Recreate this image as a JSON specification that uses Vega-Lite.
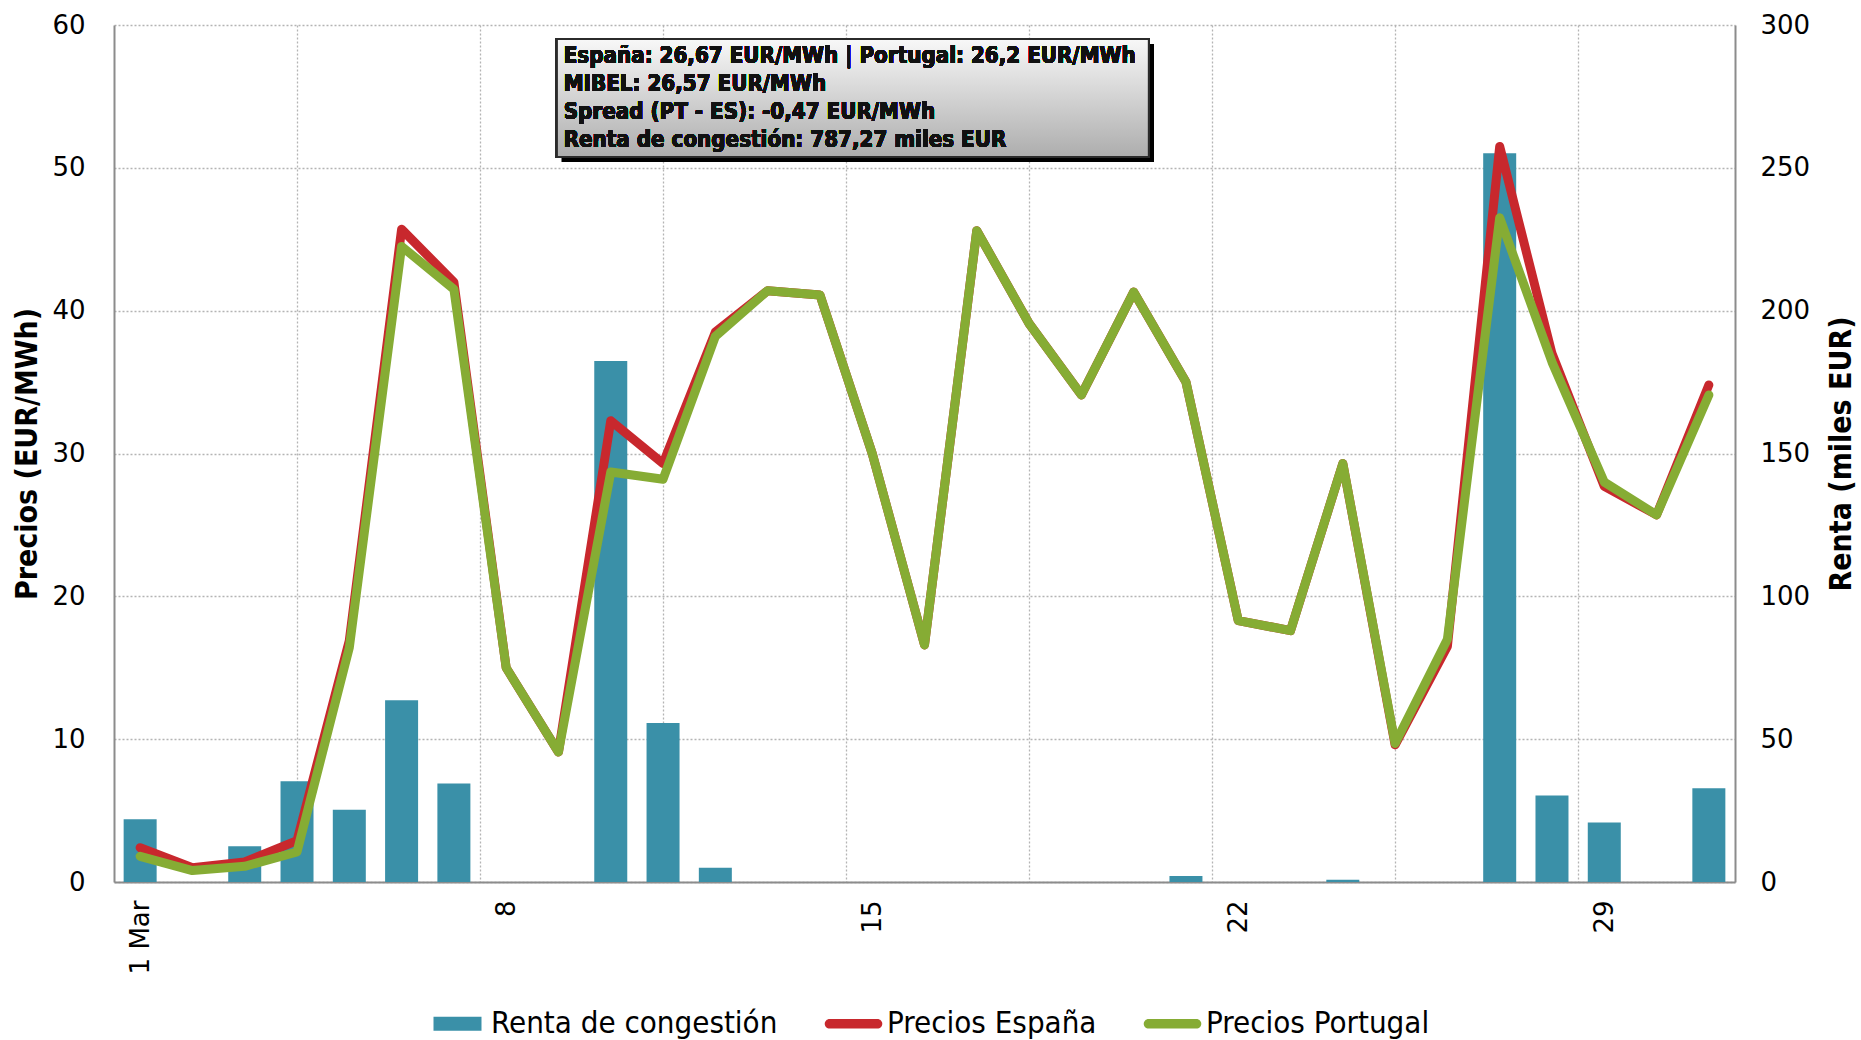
{
  "$schema": "https://vega.github.io/schema/vega-lite/v6.json",
  "width": 1621,
  "height": 857,
  "autosize": {"type": "none"},
  "padding": {"left": 114, "top": 25, "right": 126, "bottom": 158},
  "background": "white",
  "config": {
    "view": {"stroke": null},
    "axis": {
      "domainColor": "#8c8c8c",
      "domainWidth": 2,
      "labelFont": "DejaVu Sans",
      "labelFontSize": 26,
      "labelColor": "#000000",
      "titleFont": "DejaVu Sans Condensed",
      "titleFontSize": 30,
      "titleFontWeight": "bold",
      "titleColor": "#000000",
      "gridColor": "#b4b4b4",
      "gridDash": [2, 2],
      "gridWidth": 1.3,
      "ticks": false
    }
  },
  "data": {
    "values": [
      {"dia": 1, "Precios España": 2.4, "Precios Portugal": 1.8, "Renta de congestión": 22.0},
      {"dia": 2, "Precios España": 1.0, "Precios Portugal": 0.8, "Renta de congestión": 0},
      {"dia": 3, "Precios España": 1.4, "Precios Portugal": 1.1, "Renta de congestión": 12.5},
      {"dia": 4, "Precios España": 2.9, "Precios Portugal": 2.1, "Renta de congestión": 35.3},
      {"dia": 5, "Precios España": 16.9, "Precios Portugal": 16.4, "Renta de congestión": 25.3},
      {"dia": 6, "Precios España": 45.7, "Precios Portugal": 44.5, "Renta de congestión": 63.6},
      {"dia": 7, "Precios España": 42.0, "Precios Portugal": 41.5, "Renta de congestión": 34.5},
      {"dia": 8, "Precios España": 15.0, "Precios Portugal": 15.0, "Renta de congestión": 0},
      {"dia": 9, "Precios España": 9.1, "Precios Portugal": 9.1, "Renta de congestión": 0},
      {"dia": 10, "Precios España": 32.3, "Precios Portugal": 28.7, "Renta de congestión": 182.4},
      {"dia": 11, "Precios España": 29.3, "Precios Portugal": 28.2, "Renta de congestión": 55.7},
      {"dia": 12, "Precios España": 38.5, "Precios Portugal": 38.2, "Renta de congestión": 5.0},
      {"dia": 13, "Precios España": 41.4, "Precios Portugal": 41.4, "Renta de congestión": 0},
      {"dia": 14, "Precios España": 41.1, "Precios Portugal": 41.1, "Renta de congestión": 0},
      {"dia": 15, "Precios España": 30.0, "Precios Portugal": 30.0, "Renta de congestión": 0},
      {"dia": 16, "Precios España": 16.6, "Precios Portugal": 16.6, "Renta de congestión": 0},
      {"dia": 17, "Precios España": 45.6, "Precios Portugal": 45.6, "Renta de congestión": 0},
      {"dia": 18, "Precios España": 39.1, "Precios Portugal": 39.1, "Renta de congestión": 0},
      {"dia": 19, "Precios España": 34.1, "Precios Portugal": 34.1, "Renta de congestión": 0},
      {"dia": 20, "Precios España": 41.3, "Precios Portugal": 41.3, "Renta de congestión": 0},
      {"dia": 21, "Precios España": 35.0, "Precios Portugal": 35.0, "Renta de congestión": 2.1},
      {"dia": 22, "Precios España": 18.3, "Precios Portugal": 18.3, "Renta de congestión": 0},
      {"dia": 23, "Precios España": 17.6, "Precios Portugal": 17.6, "Renta de congestión": 0},
      {"dia": 24, "Precios España": 29.3, "Precios Portugal": 29.3, "Renta de congestión": 0.8},
      {"dia": 25, "Precios España": 9.6, "Precios Portugal": 9.7, "Renta de congestión": 0},
      {"dia": 26, "Precios España": 16.5, "Precios Portugal": 17.0, "Renta de congestión": 0},
      {"dia": 27, "Precios España": 51.5, "Precios Portugal": 46.5, "Renta de congestión": 255.1},
      {"dia": 28, "Precios España": 37.0, "Precios Portugal": 36.4, "Renta de congestión": 30.3},
      {"dia": 29, "Precios España": 27.7, "Precios Portugal": 28.0, "Renta de congestión": 20.8},
      {"dia": 30, "Precios España": 25.7, "Precios Portugal": 25.7, "Renta de congestión": 0},
      {"dia": 31, "Precios España": 34.8, "Precios Portugal": 34.1, "Renta de congestión": 32.8}
    ]
  },
  "encoding": {
    "x": {
      "field": "dia",
      "type": "quantitative",
      "scale": {"domain": [0.5, 31.5], "nice": false, "zero": false, "padding": 0},
      "axis": {
        "title": null,
        "values": [1, 4, 7.5, 8, 11, 14.5, 15, 18, 21.5, 22, 25, 28.5, 29],
        "labelExpr": "datum.value == 1 ? '1 Mar' : (indexof([8,15,22,29], datum.value) >= 0 ? '' + datum.value : '')",
        "labelAngle": -90,
        "labelPadding": 18,
        "labelOverlap": false,
        "labelFlush": false,
        "grid": true,
        "gridOpacity": {
          "condition": {"test": "indexof([4,7.5,11,14.5,18,21.5,25,28.5], datum.value) >= 0", "value": 1},
          "value": 0
        }
      }
    }
  },
  "layer": [
    {
      "transform": [{"fold": ["Renta de congestión"], "as": ["serie", "valor"]}],
      "mark": {"type": "bar", "size": 33},
      "encoding": {
        "y": {
          "field": "valor",
          "type": "quantitative",
          "scale": {"domain": [0, 300], "nice": false},
          "axis": {
            "orient": "right",
            "title": "Renta (miles EUR)",
            "values": [0, 50, 100, 150, 200, 250, 300],
            "grid": false,
            "labelPadding": 25,
            "titlePadding": 17,
            "titleAngle": 270,
            "titleBaseline": "top"
          }
        },
        "color": {
          "field": "serie",
          "type": "nominal",
          "scale": {
            "domain": ["Renta de congestión", "Precios España", "Precios Portugal"],
            "range": ["#3a90a8", "#c8282d", "#86ac34"]
          },
          "legend": {
            "title": null,
            "orient": "none",
            "legendX": 315,
            "legendY": 970,
            "direction": "horizontal",
            "labelFont": "DejaVu Sans Condensed",
            "labelFontSize": 31,
            "labelColor": "#000000",
            "labelLimit": 0,
            "labelOffset": 5,
            "columnPadding": 46,
            "symbolSize": 3249,
            "encode": {
              "symbols": {
                "update": {
                  "shape": {"signal": "datum.value === 'Renta de congestión' ? 'M-0.842,-0.246H0.842V0.246H-0.842Z' : 'M-0.84,-0.17H0.84A0.17,0.17 0 0 1 0.84,0.17H-0.84A0.17,0.17 0 0 1 -0.84,-0.17Z'"},
                  "fill": {"scale": "color", "field": "value"},
                  "strokeWidth": {"value": 0},
                  "opacity": {"value": 1}
                }
              }
            }
          }
        }
      }
    },
    {
      "layer": [
        {
          "transform": [{"fold": ["Precios España", "Precios Portugal"], "as": ["serie", "valor"]}],
          "mark": {"type": "line", "strokeWidth": 9, "strokeCap": "round", "strokeJoin": "round"},
          "encoding": {
            "y": {
              "field": "valor",
              "type": "quantitative",
              "scale": {"domain": [0, 60], "nice": false},
              "axis": {
                "orient": "left",
                "title": "Precios (EUR/MWh)",
                "values": [0, 10, 20, 30, 40, 50, 60],
                "grid": true,
                "labelPadding": 29,
                "titlePadding": 9
              }
            },
            "color": {"field": "serie", "type": "nominal"}
          }
        },
        {
          "mark": {"type": "rect", "fill": "#000000", "opacity": 0.22, "xOffset": 5, "x2Offset": 5, "yOffset": 5, "y2Offset": 5},
          "encoding": {
            "x": {"datum": 8.97, "type": "quantitative"},
            "x2": {"datum": 20.29},
            "y": {"datum": 59.02, "type": "quantitative"},
            "y2": {"datum": 50.76}
          }
        },
        {
          "mark": {
            "type": "rect",
            "fill": {
              "gradient": "linear",
              "x1": 0, "y1": 0, "x2": 0, "y2": 1,
              "stops": [
                {"offset": 0, "color": "#f8f8f8"},
                {"offset": 1, "color": "#adadad"}
              ]
            },
            "stroke": "#2b2b2b",
            "strokeWidth": 2
          },
          "encoding": {
            "x": {"datum": 8.97, "type": "quantitative"},
            "x2": {"datum": 20.29},
            "y": {"datum": 59.02, "type": "quantitative"},
            "y2": {"datum": 50.76}
          }
        },
        {
          "mark": {
            "type": "text",
            "text": [
              "España: 26,67 EUR/MWh | Portugal: 26,2 EUR/MWh",
              "MIBEL: 26,57 EUR/MWh",
              "Spread (PT - ES): -0,47 EUR/MWh",
              "Renta de congestión: 787,27 miles EUR"
            ],
            "align": "left",
            "baseline": "middle",
            "lineHeight": 28,
            "font": "DejaVu Sans Condensed",
            "fontWeight": "bold",
            "fontSize": 22.2,
            "color": "#111111"
          },
          "encoding": {
            "x": {"datum": 9.1, "type": "quantitative"},
            "y": {"datum": 57.84, "type": "quantitative"}
          }
        }
      ]
    }
  ],
  "resolve": {"scale": {"y": "independent"}}
}
